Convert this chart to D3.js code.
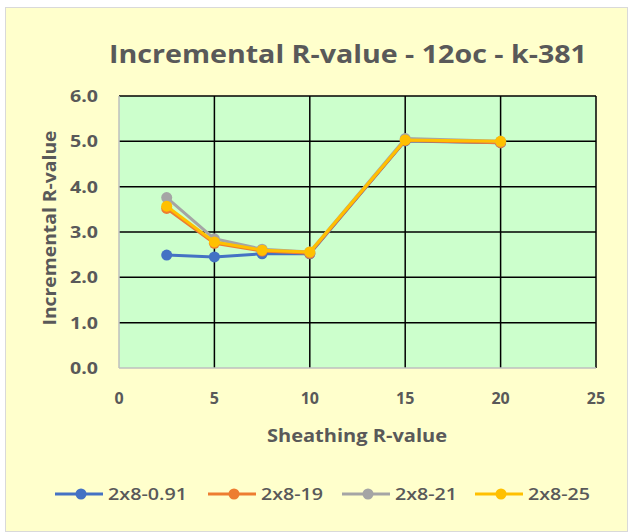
<!DOCTYPE html>
<html>
<head>
<meta charset="utf-8">
<title>Incremental R-value</title>
<style>
  body { margin: 0; background: #fff; }
  text { font-family: "Open Sans", "Liberation Sans", Arial, sans-serif; fill: #595959; font-weight: bold; }
</style>
</head>
<body>
<script src="https://cdn.jsdelivr.net/npm/d3@7/dist/d3.min.js"></script>
<script>
// data
var sheathing = [2.5, 5, 7.5, 10, 15, 20];
var seriesNames = ["2x8-0.91", "2x8-19", "2x8-21", "2x8-25"];
var s091 = [2.49, 2.45, 2.52, 2.52, 5.01, 4.97];
var s19  = [3.52, 2.75, 2.58, 2.53, 5.02, 4.97];
var s21  = [3.76, 2.85, 2.62, 2.56, 5.06, 5.00];
var s25  = [3.57, 2.78, 2.60, 2.56, 5.03, 5.00];
var colors = ["#4472C4", "#ED7D31", "#A5A5A5", "#FFC000"];
var xTicks = [0, 5, 10, 15, 20, 25];
var yTicks = [0, 1, 2, 3, 4, 5, 6];

function main() {
    var width = 634, height = 532;
    var svg = d3.select("body").append("svg")
        .attr("width", width).attr("height", height);

    // chart background
    svg.append("rect").attr("x", 5.5).attr("y", 7.5)
        .attr("width", 622).attr("height", 524)
        .attr("fill", "#FFFFCC").attr("stroke", "#d9d9d9");

    var x = d3.scaleLinear().domain([0, 25]).range([119, 596]);
    var y = d3.scaleLinear().domain([0, 6]).range([368, 96]);

    // plot area
    svg.append("rect").attr("x", x(0)).attr("y", y(6))
        .attr("width", x(25) - x(0)).attr("height", y(0) - y(6))
        .attr("fill", "#CCFFCC");

    // gridlines
    svg.append("g").selectAll("line").data(yTicks.filter(function (d) { return d > 0; }))
        .enter().append("line")
        .attr("x1", x(0)).attr("x2", x(25))
        .attr("y1", function (d) { return y(d); }).attr("y2", function (d) { return y(d); })
        .attr("stroke", "#000").attr("stroke-width", 1.5);
    svg.append("g").selectAll("line").data(xTicks.filter(function (d) { return d > 0; }))
        .enter().append("line")
        .attr("y1", y(0)).attr("y2", y(6))
        .attr("x1", function (d) { return x(d); }).attr("x2", function (d) { return x(d); })
        .attr("stroke", "#000").attr("stroke-width", 1.5);
    // axis lines
    svg.append("line").attr("x1", x(0)).attr("x2", x(25)).attr("y1", y(0)).attr("y2", y(0))
        .attr("stroke", "#bfbfbf").attr("stroke-width", 1.5);
    svg.append("line").attr("x1", x(0)).attr("x2", x(0)).attr("y1", y(0)).attr("y2", y(6))
        .attr("stroke", "#bfbfbf").attr("stroke-width", 1.5);

    // tick labels
    svg.append("g").selectAll("text").data(yTicks).enter().append("text")
        .attr("x", 98).attr("y", function (d) { return y(d) + 6; })
        .attr("text-anchor", "end").style("font-size", "16px")
        .attr("textLength", 28).attr("lengthAdjust", "spacingAndGlyphs")
        .text(function (d) { return d3.format(".1f")(d); });
    svg.append("g").selectAll("text").data(xTicks).enter().append("text")
        .attr("x", function (d) { return x(d); }).attr("y", 404)
        .attr("text-anchor", "middle").style("font-size", "16px")
        .text(function (d) { return d; });

    // titles
    svg.append("text").attr("x", 348).attr("y", 63).attr("text-anchor", "middle")
        .style("font-size", "25px").attr("textLength", 478).attr("lengthAdjust", "spacingAndGlyphs")
        .text("Incremental R-value - 12oc - k-381");
    svg.append("text").attr("x", 357).attr("y", 442).attr("text-anchor", "middle")
        .style("font-size", "17px").attr("textLength", 180).attr("lengthAdjust", "spacingAndGlyphs")
        .text("Sheathing R-value");
    svg.append("text").attr("transform", "translate(56,228) rotate(-90)").attr("text-anchor", "middle")
        .style("font-size", "17px").attr("textLength", 195).attr("lengthAdjust", "spacingAndGlyphs")
        .text("Incremental R-value");

    // series
    var all = [s091, s19, s21, s25];
    var line = d3.line().x(function (d, i) { return x(sheathing[i]); }).y(function (d) { return y(d); });
    all.forEach(function (vals, k) {
        var g = svg.append("g");
        g.append("path").datum(vals).attr("d", line)
            .attr("fill", "none").attr("stroke", colors[k]).attr("stroke-width", 3)
            .attr("stroke-linejoin", "round");
        g.selectAll("circle").data(vals).enter().append("circle")
            .attr("cx", function (d, i) { return x(sheathing[i]); })
            .attr("cy", function (d) { return y(d); })
            .attr("r", 5.5).attr("fill", colors[k]);
    });

    // legend
    var legX = [55, 208, 342, 475];
    var legW = [79, 62, 62, 62];
    var leg = svg.append("g").selectAll("g").data(seriesNames).enter().append("g")
        .attr("transform", function (d, i) { return "translate(" + legX[i] + ",494)"; });
    leg.append("line").attr("x1", 0).attr("x2", 48)
        .attr("stroke", function (d, i) { return colors[i]; }).attr("stroke-width", 3);
    leg.append("circle").attr("cx", 26).attr("r", 5.5)
        .attr("fill", function (d, i) { return colors[i]; });
    leg.append("text").attr("x", 53).attr("y", 6).style("font-size", "16px")
        .style("font-weight", "600")
        .attr("textLength", function (d, i) { return legW[i]; }).attr("lengthAdjust", "spacingAndGlyphs")
        .text(function (d) { return d; });
}

window.onload = function () {
    main();
};
</script>
</body>
</html>
